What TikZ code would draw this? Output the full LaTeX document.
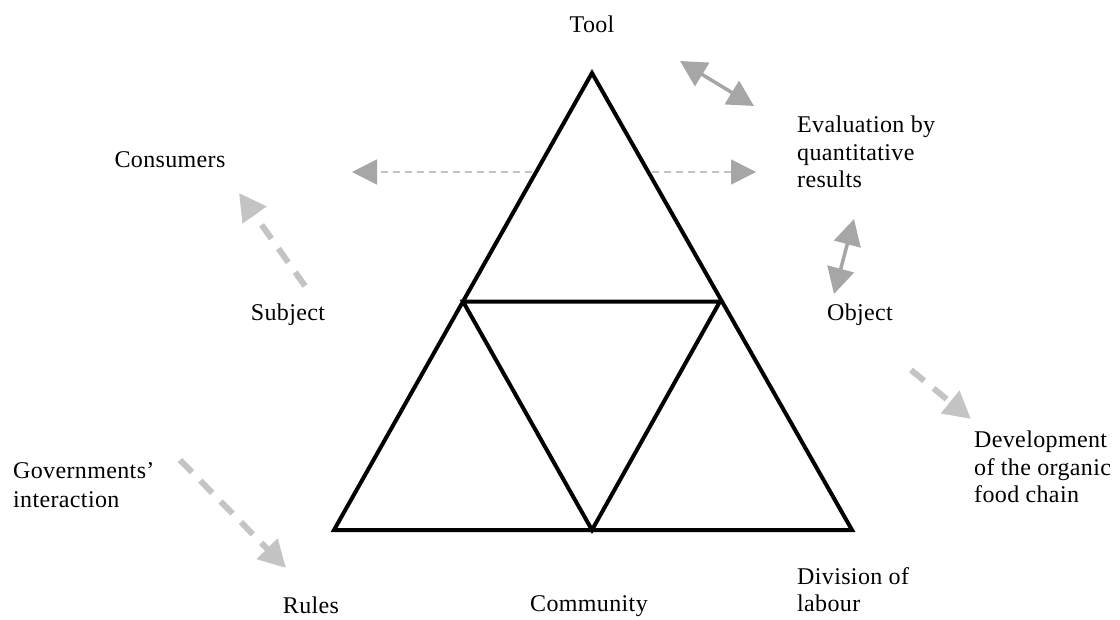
\documentclass[tikz,border=0pt]{standalone}
\usepackage{fontspec}
\setmainfont{Liberation Serif}[LetterSpace=1.5]
\usetikzlibrary{arrows.meta}
\definecolor{arrowgray}{HTML}{A6A6A6}
\definecolor{dashgray}{HTML}{C4C4C4}
\begin{document}
\begin{tikzpicture}[x=1pt,y=-1pt,
  lbl/.style={inner sep=0pt,font=\fontsize{24}{27.5}\selectfont},
  lbll/.style={lbl,anchor=north west,align=left},
  tri/.style={line width=4pt,line join=miter},
  dbl/.style={draw=arrowgray,line width=3.5pt,{Triangle[length=26pt,width=27pt]}-{Triangle[length=26pt,width=27pt]}},
  thindash/.style={draw=dashgray,line width=1.5pt,dash pattern=on 7pt off 5pt,-{Triangle[length=25pt,width=25pt,color=arrowgray,fill=arrowgray]}},
  thickdash/.style={draw=dashgray,line width=6pt,dash pattern=on 17pt off 12pt,-{Triangle[length=27pt,width=28pt]}}]
\useasboundingbox (0,0) rectangle (1120,619);
% outer triangle corners
\coordinate (A) at (592,73);
\coordinate (B) at (334,530);
\coordinate (C) at (852,530);
\coordinate (AB) at (463,301.5);
\coordinate (AC) at (720,301.5);
\coordinate (BC) at (592,530);
% horizontal dashed arrows (behind triangle)
\coordinate (hc) at (592,172);
\coordinate (hl) at (352,172);
\coordinate (hr) at (756,172);
\draw[thindash] (hc) -- (hl);
\draw[thindash] (hc) -- (hr);
% triangle
\draw[tri,fill=white] (A) -- (B) -- (C) -- cycle;
\draw[tri] (AB) -- (AC) -- (BC) -- cycle;
% labels
\node[lbl] (tool) at (592,24) {Tool};
\node[lbl] (cons) at (170,160) {Consumers};
\node[lbll] (eval) at (797,116) {Evaluation by\\quantitative\\results};
\node[lbl] (subj) at (288,315) {Subject};
\node[lbl] (obj) at (860,315) {Object};
\node[lbll] (dev) at (974,431) {Development\\of the organic\\food chain};
\node[lbll] (gov) at (13,462) {Governments’\\[2pt]interaction};
\node[lbl] (rules) at (311,605) {Rules};
\node[lbl] (comm) at (589,606) {Community};
\node[lbll] (div) at (797,567) {Division of\\labour};
% arrows
\coordinate (t1) at (680,61);
\coordinate (t2) at (754,106);
\draw[dbl] (t1) -- (t2);
\coordinate (o1) at (854,219);
\coordinate (o2) at (834,294);
\draw[dbl] (o1) -- (o2);
\coordinate (s1) at (305,286);
\coordinate (s2) at (239,193);
\draw[thickdash] (s1) -- (s2);
\coordinate (d1) at (911,370);
\coordinate (d2) at (971,419);
\draw[thickdash] (d1) -- (d2);
\coordinate (g1) at (180,460);
\coordinate (g2) at (286,568);
\draw[thickdash] (g1) -- (g2);
\end{tikzpicture}
\end{document}
